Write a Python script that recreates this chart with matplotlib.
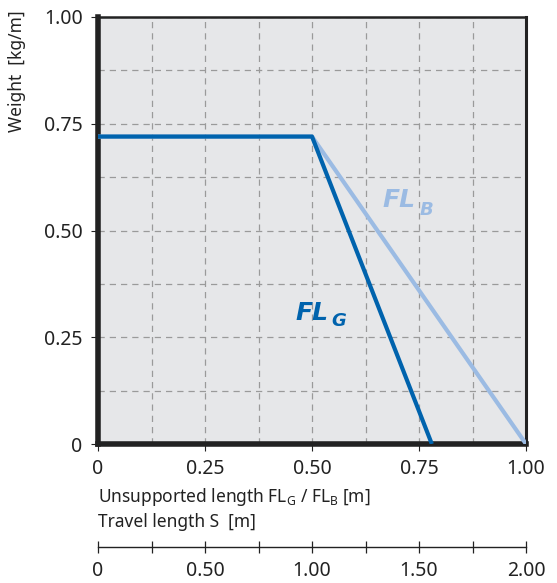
import numpy as np
import matplotlib.pyplot as plt
from matplotlib.ticker import FuncFormatter, MultipleLocator

# unsupported length [m] vs weight [kg/m]
fl_g_x = [0.0, 0.50, 0.78]
fl_g_y = [0.72, 0.72, 0.0]
fl_b_x = [0.0, 0.50, 1.00]
fl_b_y = [0.72, 0.72, 0.0]

ticks = [0, 0.25, 0.50, 0.75, 1.00]
travel_ticks = [0, 0.50, 1.00, 1.50, 2.00]

DARK = "#0063ad"
LIGHT = "#9bbbe3"

plt.rcParams['font.family'] = ['Noto Sans', 'DejaVu Sans']


def fmt(v, pos=None):
    return "0" if abs(v) < 1e-9 else f"{v:.2f}"


fig = plt.figure(figsize=(5.57, 5.83), dpi=100)
ax = fig.add_axes([98 / 557, 139 / 583, 428 / 557, 427 / 583])
ax.set_facecolor("#e6e7e9")

ax.plot(fl_b_x, fl_b_y, color=LIGHT, lw=3.0, solid_capstyle="butt", zorder=3)
ax.plot(fl_g_x, fl_g_y, color=DARK, lw=3.0, solid_capstyle="butt", zorder=4)

ax.set_xlim(0, 1)
ax.set_ylim(0, 1)
ax.set_xticks(ticks)
ax.set_yticks(ticks)
ax.xaxis.set_major_formatter(FuncFormatter(fmt))
ax.yaxis.set_major_formatter(FuncFormatter(fmt))
ax.xaxis.set_minor_locator(MultipleLocator(0.125))
ax.yaxis.set_minor_locator(MultipleLocator(0.125))
ax.grid(which="both", color="#9a9a9a", ls=(0, (5, 4)), lw=0.9)
ax.set_axisbelow(True)
ax.tick_params(which="major", labelsize=14, length=5, width=0.8, colors="#222222", pad=6)
ax.tick_params(which="minor", length=0)

for side, lw in [("left", 4.0), ("bottom", 4.0), ("top", 1.8), ("right", 2.2)]:
    ax.spines[side].set_linewidth(lw)
    ax.spines[side].set_color("#222222")

lab = dict(family="DejaVu Sans", fontweight="bold", style="italic", va="center",
           ha="left", transform=ax.transAxes)
ax.text(0.664, 0.571, "FL", color=LIGHT, fontsize=18, **lab)
ax.text(0.752, 0.549, "B", color=LIGHT, fontsize=13, **lab)
ax.text(0.461, 0.307, "FL", color=DARK, fontsize=18, **lab)
ax.text(0.545, 0.288, "G", color=DARK, fontsize=13, **lab)

ax.text(-0.19, 1.015, "Weight  [kg/m]", rotation=90, va="top", ha="center", fontsize=12.5,
        color="#222222", transform=ax.transAxes)

ax.text(0.0, -0.125, r"Unsupported length FL$_\mathregular{G}$ / FL$_\mathregular{B}$ [m]",
        fontsize=12.5, color="#222222", va="center", ha="left", transform=ax.transAxes)
ax.text(0.0, -0.183, "Travel length S  [m]", fontsize=12.5, color="#222222",
        va="center", ha="left", transform=ax.transAxes)

sec = ax.secondary_xaxis(-0.241, functions=(lambda x: x * 2, lambda x: x / 2))
sec.set_xticks(travel_ticks)
sec.xaxis.set_major_formatter(FuncFormatter(fmt))
sec.xaxis.set_minor_locator(MultipleLocator(0.25))
sec.tick_params(which="major", direction="inout", length=8, width=0.9, labelsize=14,
                colors="#222222", pad=6)
sec.tick_params(which="minor", direction="inout", length=8, width=0.9, colors="#222222")
sec.spines["bottom"].set_linewidth(1.0)
sec.spines["bottom"].set_color("#222222")

fig.savefig("out.png", dpi=100, facecolor="white")
